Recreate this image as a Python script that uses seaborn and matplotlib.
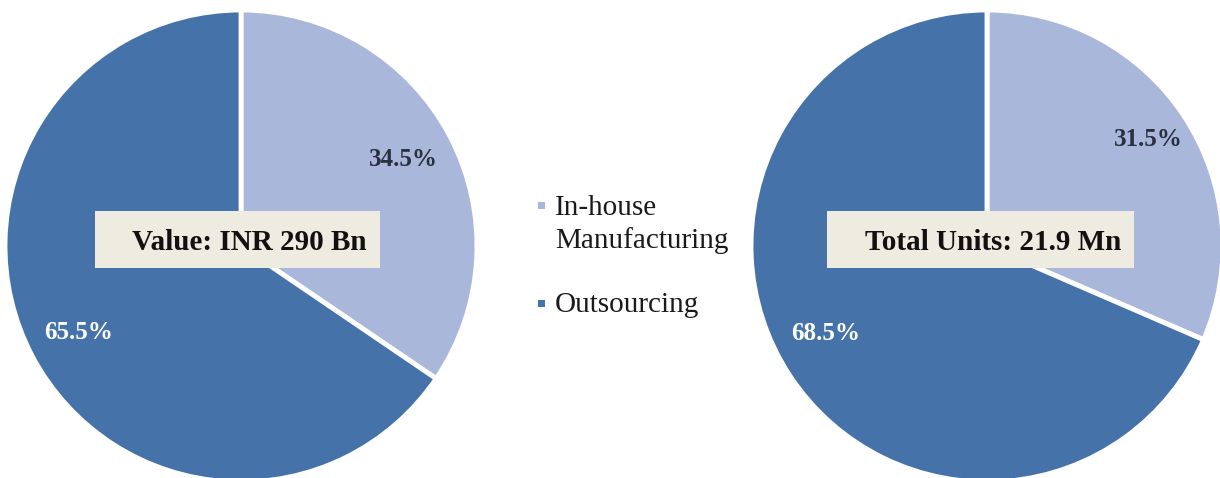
import matplotlib
matplotlib.use("Agg")
import matplotlib.pyplot as plt
import seaborn as sns
from matplotlib.patches import Rectangle

sns.set_style("white")
plt.rcParams['font.family'] = ['Liberation Serif', 'DejaVu Serif']

categories = ["In-house\nManufacturing", "Outsourcing"]
value_share = [34.5, 65.5]
units_share = [31.5, 68.5]
titles = ["Value: INR 290 Bn", "Total Units: 21.9 Mn"]

colors = ["#A9B8DA", "#4572A8"]
box_color = "#EEEBE1"

W, H = 1220, 478
fig = plt.figure(figsize=(W / 100, H / 100), dpi=100)
fig.patch.set_facecolor("white")


def fx(px):
    return px / W


def fy(py):
    return 1 - py / H


R = 236
centers = [(241, 246), (987, 246)]
pcts = [0.78, 0.82]
label_nudge = [0.0, 0.08]
boxes = [(95, 380), (827, 1134)]
text_x = [132, 865]

for (cx, cy), vals, title, pd_, nudge, (bx0, bx1), tx in zip(
        centers, [value_share, units_share], titles, pcts, label_nudge, boxes, text_x):
    ax = fig.add_axes([(cx - R) / W, (H - cy - R) / H, 2 * R / W, 2 * R / H])
    wedges, texts, autotexts = ax.pie(
        vals, colors=colors, startangle=90, counterclock=False,
        autopct=lambda p: f"{p:.1f}%", pctdistance=pd_,
        wedgeprops=dict(edgecolor="white", linewidth=3.5),
        textprops=dict(fontsize=18, fontweight="bold"),
    )
    autotexts[0].set_color("#2B3040")
    autotexts[1].set_color("white")
    x, y = autotexts[1].get_position()
    autotexts[1].set_position((x, y + nudge))
    for w in wedges:
        w.set_clip_on(False)
    ax.set_xlim(-1, 1)
    ax.set_ylim(-1, 1)
    ax.set_aspect("equal")
    ax.axis("off")
    fig.patches.append(Rectangle((fx(bx0), fy(268)), fx(bx1 - bx0), (268 - 211) / H,
                                 transform=fig.transFigure, facecolor=box_color,
                                 edgecolor="none", zorder=5))
    fig.text(fx(tx), fy(250), title, ha="left", va="baseline",
             fontsize=21, fontweight="bold", color="#111111", zorder=6)

# legend (manual, to align marker with first label line)
marker_y = [205, 303]
line_baselines = [[215, 248], [312]]
for color, label, my, bases in zip(colors, categories, marker_y, line_baselines):
    fig.patches.append(Rectangle((fx(537.5), fy(my + 3.5)), fx(7), 7 / H,
                                 transform=fig.transFigure, facecolor=color,
                                 edgecolor="none"))
    for line, b in zip(label.split("\n"), bases):
        fig.text(fx(555), fy(b), line, ha="left", va="baseline",
                 fontsize=21, color="#1A1A1A")

fig.savefig("out.png", dpi=100, facecolor="white")
